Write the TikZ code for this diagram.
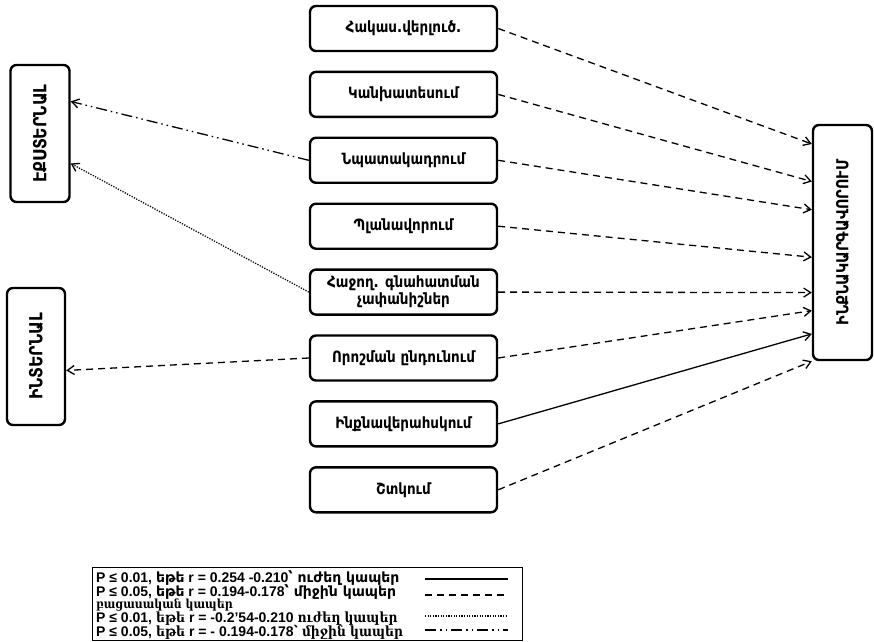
\documentclass[tikz,border=0pt]{standalone}
\usepackage{fontspec}
\setmainfont{Liberation Sans}
\newfontfamily\armfont{DejaVu Sans}
\newfontfamily\armnarrow[FakeStretch=0.87]{DejaVu Sans}
\newfontfamily\armserif[FakeStretch=0.88]{DejaVu Serif}
\usetikzlibrary{arrows.meta,positioning,calc}

\begin{document}
\begin{tikzpicture}[x=1pt,y=1pt,>={Straight Barb[length=7pt,width=9pt]},
  stagebox/.style={rectangle,rounded corners=6pt,draw=black,line width=2.4pt,minimum width=187pt,minimum height=45pt,inner sep=2pt,align=center,font=\armnarrow\bfseries\fontsize{15.5}{17}\selectfont},
  sidebox/.style={rectangle,rounded corners=6pt,draw=black,line width=2.4pt,minimum width=59pt,minimum height=137pt},
  sidelabel/.style={rotate=90,font=\armnarrow\bfseries\fontsize{18}{20}\selectfont},
  link/.style={->,draw=black,line width=1.3pt},
  strongpos/.style={link},
  midpos/.style={link,dash pattern=on 7pt off 5pt},
  strongneg/.style={link,dash pattern=on 1.2pt off 1.4pt},
  midneg/.style={link,dash pattern=on 11pt off 4pt on 1.5pt off 4pt on 1.5pt off 4pt},
  legendtext/.style={anchor=west,inner sep=0pt,font=\bfseries\fontsize{14}{15}\selectfont}]
\useasboundingbox (0,0) rectangle (874,641);
% stages
\node[stagebox] (anal) at (403.5,612.5) {Հակաս.վերլուծ.};
\node[stagebox,below=18.5pt of anal] (forecast) {Կանխատեսում};
\node[stagebox,below=18.5pt of forecast] (goal) {Նպատակադրում};
\node[stagebox,below=18.5pt of goal] (plan) {Պլանավորում};
\node[stagebox,below=18.5pt of plan] (criteria) {Հաջող. գնահատման\\չափանիշներ};
\node[stagebox,below=18.5pt of criteria] (decide) {Որոշման ընդունում};
\node[stagebox,below=18.5pt of decide] (selfctrl) {Ինքնավերահսկում};
\node[stagebox,below=18.5pt of selfctrl] (correct) {Շտկում};
% locus and result
\node[sidebox] (extern) at (40,507.5) {};
\node[sidelabel] at (extern) {ԷՔՍՏԵՐՆԱԼ};
\node[sidebox,minimum width=58pt] (intern) at (36,284.5) {};
\node[sidelabel] at (intern) {ԻՆՏԵՐՆԱԼ};
\node[sidebox,minimum height=235pt] (result) at (842.5,398.5) {};
\node[sidelabel,font=\armnarrow\bfseries\fontsize{16.5}{18}\selectfont] at (result) {ԻՆՔՆԱԿԱՐԳԱՎՈՐՈՒՄ};
% links to result
\draw[midpos] (anal.east) -- ($(result.north west)!0.085!(result.south west)$);
\draw[midpos] (forecast.east) -- ($(result.north west)!0.243!(result.south west)$);
\draw[midpos] (goal.east) -- ($(result.north west)!0.362!(result.south west)$);
\draw[midpos] (plan.east) -- ($(result.north west)!0.562!(result.south west)$);
\draw[midpos] (criteria.east) -- ($(result.north west)!0.711!(result.south west)$);
\draw[midpos] (decide.east) -- ($(result.north west)!0.787!(result.south west)$);
\draw[strongpos] (selfctrl.east) -- ($(result.north west)!0.885!(result.south west)$);
\draw[midpos] (correct.east) -- ($(result.north west)!1.0!(result.south west)$);
% links to locus
\draw[midneg] (goal.west) -- ($(extern.north east)!0.27!(extern.south east)$);
\draw[strongneg] (criteria.west) -- ($(extern.north east)!0.715!(extern.south east)$);
\draw[midpos] (decide.west) -- ($(intern.north east)!0.6!(intern.south east)$);
% legend
\node[draw=black,line width=1pt,minimum width=430pt,minimum height=73pt] (legend) at (307,37.5) {};
\node[legendtext] (row1) at (96,63) {P ≤ 0.01, {\armfont եթե} r = 0.254 -0.210{\armfont ՝ ուժեղ կապեր}};
\node[legendtext] (row2) at (96,49) {P ≤ 0.05, {\armfont եթե} r = 0.194-0.178{\armfont ՝ միջին կապեր}};
\node[legendtext] (row3) at (96,36) {{\armserif\fontsize{12.5}{14}\selectfont բացասական կապեր}};
\node[legendtext] (row4) at (96,22) {P ≤ 0.01, {\armserif եթե} r = -0.2’54-0.210 {\armserif ուժեղ կապեր}};
\node[legendtext] (row5) at (96,9) {P ≤ 0.05, {\armserif եթե} r = - 0.194-0.178{\armserif ՝ միջին կապեր}};
\draw[line width=1.3pt] (425,62) -- (508,62);
\draw[line width=1.3pt,dash pattern=on 7pt off 5pt] (425,46) -- (508,46);
\draw[line width=1.3pt,dash pattern=on 1.2pt off 1.4pt] (425,25) -- (508,25);
\draw[line width=1.3pt,dash pattern=on 11pt off 4pt on 1.5pt off 4pt on 1.5pt off 4pt] (425,11) -- (508,11);
\end{tikzpicture}
\end{document}
